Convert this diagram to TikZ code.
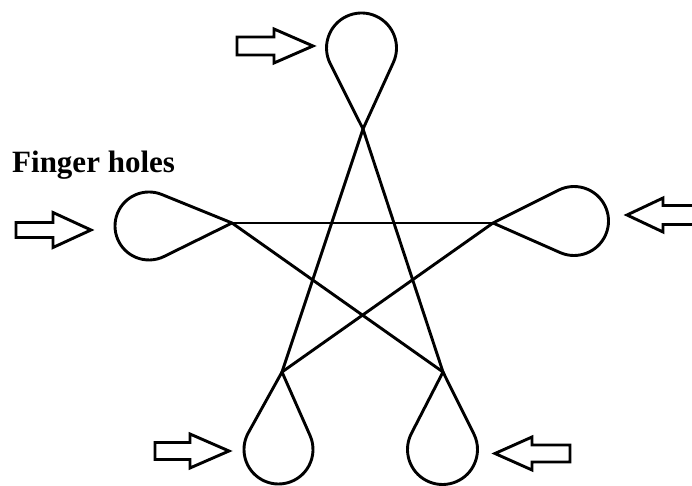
\documentclass[tikz,border=0pt]{standalone}
\usepackage{fontspec}
\setmainfont{Liberation Serif}
\usetikzlibrary{calc}
\tikzset{
  stroke/.style={line width=2.9pt, line join=round, line cap=round, black},
  arrowbox/.style={line width=2.9pt, line join=miter, black, fill=white},
}
\newcommand\fingerloop[3]{%
  \draw[stroke] let \p1=($(#1)-(#2)$), \n1={atan2(\y1,\x1)}, \n2={veclen(\x1,\y1)}, \n3={acos(#3/\n2)} in
    ($(#2)+(\n1+\n3:#3pt)$) arc[start angle=\n1+\n3, end angle=\n1-\n3+360, radius=#3pt] -- (#1) -- cycle;}
% tail x, head base x, tip x, centre y, shaft half height, head half height
\newcommand\fingerarrow[6]{%
  \draw[arrowbox] (#1,#4+#5) -- (#2,#4+#5) -- (#2,#4+#6) -- (#3,#4) -- (#2,#4-#6) -- (#2,#4-#5) -- (#1,#4-#5) -- cycle;}
\begin{document}
\begin{tikzpicture}[x=1pt,y=1pt]
\useasboundingbox (0,0) rectangle (692,486);
\clip (0,0) rectangle (692,486);
% star vertices
\coordinate (vT) at (363,357);
\coordinate (vL) at (232,263);
\coordinate (vR) at (493,263);
\coordinate (vBL) at (282,114);
\coordinate (vBR) at (443,114);
% loop centres
\coordinate (cT) at (361.5,438);
\coordinate (cL) at (149,260);
\coordinate (cR) at (574,265);
\coordinate (cBL) at (278.5,36.5);
\coordinate (cBR) at (442.5,36.5);
% star
\draw[stroke] (vT) -- (vBL);
\draw[stroke] (vT) -- (vBR);
\draw[stroke] (vL) -- (vR);
\draw[stroke] (vL) -- (vBR);
\draw[stroke] (vR) -- (vBL);
% loops
\fingerloop{vT}{cT}{35}
\fingerloop{vL}{cL}{34}
\fingerloop{vR}{cR}{34.5}
\fingerloop{vBL}{cBL}{34.5}
\fingerloop{vBR}{cBR}{35}
% arrows
\fingerarrow{237}{274}{313}{440}{9}{17}
\fingerarrow{16}{53}{91}{256}{7.5}{17.5}
\fingerarrow{702}{663}{627}{271}{9.5}{17}
\fingerarrow{155}{190}{229}{35}{8.5}{17}
\fingerarrow{570}{532}{495}{32.5}{8.5}{16.5}
% label
\node[anchor=base west, inner sep=0pt, font=\fontsize{31}{34}\selectfont\bfseries] (lbl) at (12,313) {Finger holes};
\end{tikzpicture}
\end{document}
